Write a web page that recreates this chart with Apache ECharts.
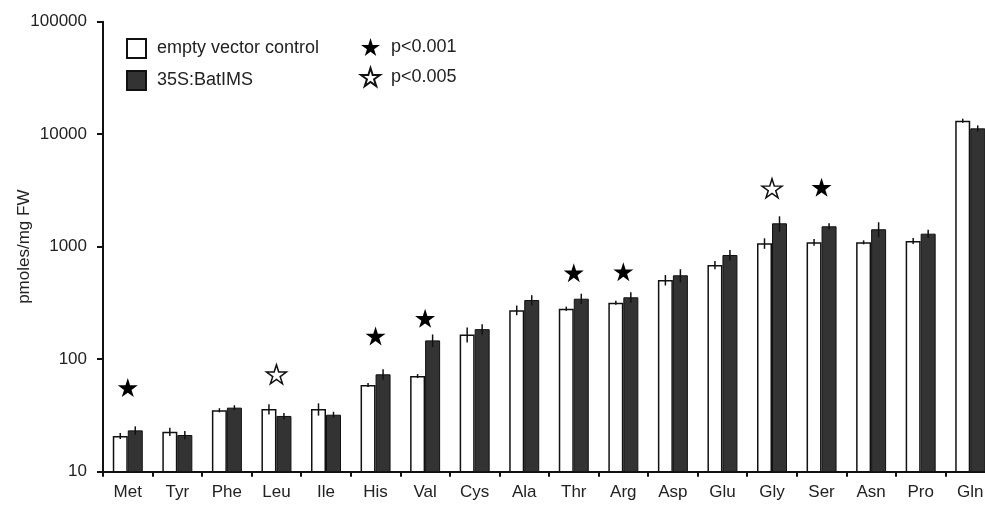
<!DOCTYPE html>
<html>
<head>
<meta charset="utf-8">
<script src="https://cdn.jsdelivr.net/npm/echarts@6/dist/echarts.min.js"></script>
<style>
  html, body { margin: 0; padding: 0; background: #fff; }
  #chart { width: 985px; height: 506px; }
</style>
</head>
<body>
<div id="chart"></div>
<script>
// amino acids, ordered as in the figure
var categories = ['Met', 'Tyr', 'Phe', 'Leu', 'Ile', 'His', 'Val', 'Cys', 'Ala', 'Thr',
  'Arg', 'Asp', 'Glu', 'Gly', 'Ser', 'Asn', 'Pro', 'Gln']

// pmoles/mg FW
var controlValues = [20.8, 22.7, 35.2, 36.0, 36.0, 59, 70.9, 166, 273, 281,
  318, 506, 687, 1072, 1094, 1094, 1125, 13183]
var controlErrors = [1.3, 1.9, 1.5, 3.8, 4.5, 2.5, 2.9, 25, 27, 12,
  13, 54, 58, 115, 75, 45, 70, 550]
var batimsValues = [23.3, 21.2, 37.1, 31.3, 32.1, 73.4, 147, 185, 336, 345,
  355, 557, 844, 1614, 1518, 1429, 1306, 11272]
var batimsErrors = [2.0, 1.8, 1.9, 2.0, 2.0, 7.9, 19, 20, 35, 37,
  38, 74, 90, 250, 95, 220, 110, 700]

// significance markers (height where the star sits, null = none)
var starsP001 = [56, null, null, null, null, 161, 231, null, null, 587,
  600, null, null, null, 3375, null, null, null]
var starsP005 = [null, null, null, 73.5, null, null, null, null, null, null,
  null, null, null, 3304, null, null, null, null]

var yTicks = [10, 100, 1000, 10000, 100000]

var STAR = 'path://M50 0 L61 35 L98 35 L68 57 L79 91 L50 70 L21 91 L32 57 L2 35 L39 35 Z'
var FONT = 'Liberation Sans'

function starData(arr) {
  var out = []
  arr.forEach(function (v, i) {
    if (v != null) out.push([i, v])
  })
  return out
}

function errData(vals, errs) {
  return vals.map(function (v, i) { return [i, v, errs[i]] })
}

function errorBars(offset) {
  return function (params, api) {
    var i = api.value(0)
    var v = api.value(1)
    var e = api.value(2)
    var top = api.coord([i, v + e])
    var bot = api.coord([i, v - e])
    return {
      type: 'line',
      shape: { x1: top[0] + offset, y1: top[1], x2: top[0] + offset, y2: bot[1] },
      style: { stroke: '#111', lineWidth: 1.5 }
    }
  }
}

var chart = echarts.init(document.getElementById('chart'))

chart.setOption({
  animation: false,
  backgroundColor: '#fff',
  textStyle: { fontFamily: FONT },
  grid: {
    left: 103,
    top: 21.7,
    width: 892,
    height: 450,
    containLabel: false,
    outerBoundsMode: 'none'
  },
  legend: [
    {
      left: 126,
      top: 38,
      padding: 0,
      orient: 'vertical',
      icon: 'rect',
      itemWidth: 19,
      itemHeight: 19,
      itemGap: 11,
      selectedMode: false,
      textStyle: { fontFamily: FONT, fontSize: 18, color: '#222', padding: [0, 0, 0, 6] },
      data: ['empty vector control', '35S:BatIMS']
    },
    {
      left: 360,
      top: 38,
      padding: 0,
      orient: 'vertical',
      itemWidth: 19,
      itemHeight: 19,
      itemGap: 11,
      selectedMode: false,
      textStyle: { fontFamily: FONT, fontSize: 18, color: '#222', padding: [0, 0, 0, 6] },
      data: ['p<0.001', 'p<0.005']
    }
  ],
  xAxis: {
    type: 'category',
    data: categories,
    boundaryGap: true,
    axisLine: { lineStyle: { color: '#111', width: 2 } },
    axisTick: { show: true, interval: 0, length: 5, lineStyle: { color: '#111', width: 2 } },
    axisLabel: { interval: 0, fontFamily: FONT, fontSize: 17, color: '#222', margin: 12 },
    splitLine: { show: false }
  },
  yAxis: {
    type: 'log',
    logBase: 10,
    min: yTicks[0],
    max: yTicks[yTicks.length - 1],
    name: 'pmoles/mg FW',
    nameLocation: 'middle',
    nameRotate: 90,
    nameGap: 70,
    nameMoveOverlap: false,
    nameTextStyle: { fontFamily: FONT, fontSize: 17, color: '#222' },
    axisLine: { show: true, lineStyle: { color: '#111', width: 2 } },
    axisTick: { show: true, inside: false, length: 6, lineStyle: { color: '#111', width: 2 } },
    minorTick: { show: false },
    axisLabel: {
      fontFamily: FONT,
      fontSize: 17,
      color: '#222',
      margin: 16,
      formatter: function (v) { return String(Math.round(v)) }
    },
    splitLine: { show: false }
  },
  series: [
    {
      name: 'empty vector control',
      type: 'bar',
      barWidth: 15,
      barGap: '0%',
      data: controlValues,
      itemStyle: { color: '#fff', borderColor: '#111', borderWidth: 1.5 }
    },
    {
      name: '35S:BatIMS',
      type: 'bar',
      barWidth: 15,
      barGap: '0%',
      data: batimsValues,
      itemStyle: { color: '#333', borderColor: '#111', borderWidth: 1 }
    },
    {
      type: 'custom',
      renderItem: errorBars(-7.5),
      data: errData(controlValues, controlErrors),
      encode: { x: 0, y: 1 },
      z: 5
    },
    {
      type: 'custom',
      renderItem: errorBars(7.5),
      data: errData(batimsValues, batimsErrors),
      encode: { x: 0, y: 1 },
      z: 5
    },
    {
      name: 'p<0.001',
      type: 'scatter',
      symbol: STAR,
      symbolSize: [20, 19],
      data: starData(starsP001),
      itemStyle: { color: '#000', borderColor: '#000', borderWidth: 0, opacity: 1 }
    },
    {
      name: 'p<0.005',
      type: 'scatter',
      symbol: STAR,
      symbolSize: [20, 19],
      data: starData(starsP005),
      itemStyle: { color: '#fff', borderColor: '#111', borderWidth: 1.5, opacity: 1 }
    }
  ]
})
</script>
</body>
</html>
